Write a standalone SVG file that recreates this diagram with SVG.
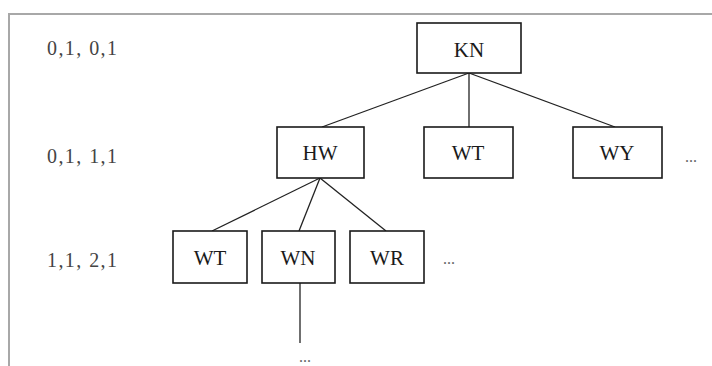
<svg xmlns="http://www.w3.org/2000/svg" width="712" height="366" viewBox="0 0 712 366">
<style>
.node rect{fill:#fff;stroke:#1a1a1a;stroke-width:1.6}
.node text{font-family:"Liberation Serif","Times New Roman",serif;font-size:21px;fill:#1a1a1a;text-anchor:middle}
.lvl{font-family:"Liberation Serif","Times New Roman",serif;font-size:20px;fill:#444}
.dots{font-family:"Liberation Serif","Times New Roman",serif;font-size:16px;fill:#666}
#connectors line{stroke:#222;stroke-width:1.3}
</style>
<rect width="712" height="366" fill="#fff"/>
<g id="frame" fill="none" stroke="#a8a8a8" stroke-width="2">
<line x1="9" y1="14" x2="712" y2="14"/>
<line x1="9" y1="13" x2="9" y2="366"/>
</g>
<g id="labels">
<text class="lvl" x="47" y="55" textLength="70" lengthAdjust="spacing">0,1, 0,1</text>
<text class="lvl" x="47" y="163" textLength="70" lengthAdjust="spacing">0,1, 1,1</text>
<text class="lvl" x="47" y="267" textLength="70" lengthAdjust="spacing">1,1, 2,1</text>
</g>
<g id="connectors">
<line x1="469" y1="73" x2="322" y2="127"/>
<line x1="469" y1="73" x2="469" y2="127"/>
<line x1="469" y1="73" x2="615" y2="127"/>
<line x1="320" y1="178" x2="212" y2="231"/>
<line x1="320" y1="178" x2="299" y2="231"/>
<line x1="320" y1="178" x2="386" y2="231"/>
<line x1="300" y1="283" x2="300" y2="343"/>
</g>
<g id="KN" class="node"><rect x="417" y="23" width="104" height="50"/><text x="469" y="57">KN</text></g>
<g id="HW" class="node"><rect x="277" y="127" width="87" height="51"/><text x="320" y="160">HW</text></g>
<g id="WT1" class="node"><rect x="424" y="127" width="89" height="51"/><text x="468" y="160">WT</text></g>
<g id="WY" class="node"><rect x="573" y="127" width="89" height="51"/><text x="617" y="160">WY</text></g>
<g id="WT2" class="node"><rect x="173" y="231" width="74" height="52"/><text x="210" y="265">WT</text></g>
<g id="WN" class="node"><rect x="262" y="231" width="73" height="52"/><text x="298" y="265">WN</text></g>
<g id="WR" class="node"><rect x="350" y="231" width="74" height="52"/><text x="387" y="265">WR</text></g>
<g id="ellipses">
<text class="dots" x="685" y="162">...</text>
<text class="dots" x="443" y="264">...</text>
<text class="dots" x="299" y="362">...</text>
</g>
</svg>
